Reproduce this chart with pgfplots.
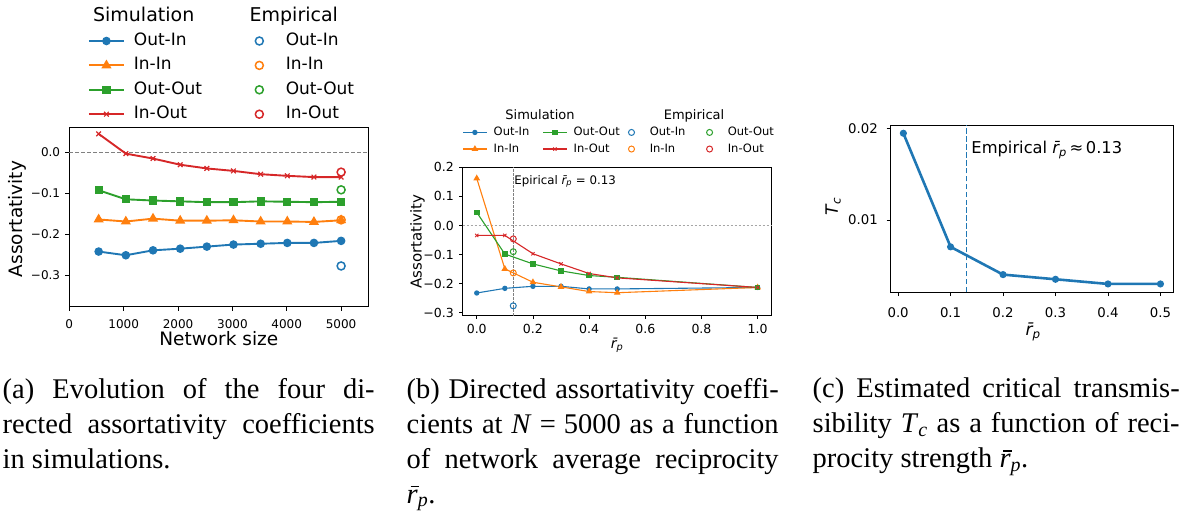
\documentclass[border=0pt]{standalone}
\usepackage{fontspec}
\setmainfont{Liberation Serif}
\newfontfamily\dv{DejaVu Sans}
\usepackage{pgfplots}
\pgfplotsset{compat=1.18}

\definecolor{c0}{HTML}{1F77B4}
\definecolor{c1}{HTML}{FF7F0E}
\definecolor{c2}{HTML}{2CA02C}
\definecolor{c3}{HTML}{D62728}

\newcommand\fs[1]{\fontsize{#1}{#1}\selectfont}
\newcommand\rp{{\itshape r̄\textsubscript{p}}}
% caption r-bar in Times-like italic
\newcommand\barr{\makebox[0pt][l]{\kern0.14em\raisebox{0.56em}{\rule{0.3em}{0.045em}}}\textit{r}}

\pgfplotsset{
  mpl/.style={
    scale only axis, clip=false, scaled ticks=false,
    axis line style={black, line width=0.9pt},
    tick align=outside, tick pos=left,
    every tick/.append style={black, line width=0.9pt},
    every tick label/.append style={inner sep=0pt},
    legend cell align=left,
  },
  simlegA/.style={legend image code/.code={\path[draw=none,fill=none] (0pt,-4pt) rectangle (35pt,4pt);
    \draw[##1] (0pt,0pt) -- (35pt,0pt);
    \draw[##1] plot coordinates {(17.5pt,0pt)};}},
  emplegA/.style={legend image code/.code={\path[draw=none,fill=none] (0pt,-4pt) rectangle (35pt,4pt);
    \draw[##1] plot coordinates {(17.5pt,0pt)};}},
  simlegB/.style={legend image code/.code={\path[draw=none,fill=none] (0pt,-3pt) rectangle (23.3pt,3pt);
    \draw[##1] (0pt,0pt) -- (23.3pt,0pt);
    \draw[##1] plot coordinates {(11.65pt,0pt)};}},
  emplegB/.style={legend image code/.code={\path[draw=none,fill=none] (0pt,-3pt) rectangle (23.3pt,3pt);
    \draw[##1] plot coordinates {(11.65pt,0pt)};}},
}

\begin{document}
\begin{tikzpicture}
\useasboundingbox (0,0) rectangle (1180pt,-518pt);

% ---------------- (a) ----------------
\begin{axis}[mpl,
  at={(69.3pt,-306.7pt)}, anchor=south west,
  width=299pt, height=179pt,
  xmin=0, xmax=5500, ymin=-0.376, ymax=0.059,
  xtick={0,1000,2000,3000,4000,5000},
  xticklabels={0,1000,2000,3000,4000,5000},
  ytick={-0.3,-0.2,-0.1,0},
  yticklabels={−0.3,−0.2,−0.1,0.0},
  major tick length=4pt,
  ticklabel style={font=\dv\fs{12}},
  xticklabel style={anchor=north, yshift=-9pt},
  yticklabel style={anchor=east, xshift=-5pt},
  xlabel={Network size}, ylabel={Assortativity},
  label style={font=\dv\fs{18.5}},
  xlabel style={at={(axis description cs:0.5,-0.1765)}, anchor=center},
  ylabel style={at={(axis description cs:-0.175,0.49)}, anchor=center},
  legend columns=4, transpose legend,
  legend style={draw=none, fill=none, inner sep=0pt, outer sep=0pt,
    at={(axis description cs:0.0625,1.529)}, anchor=north west,
    font=\dv\fs{17}, row sep=8.4pt,
    nodes={inner sep=0pt, text height=12.5pt, text depth=3.5pt},
    /tikz/every odd column/.append style={column sep=9pt},
    /tikz/every even column/.append style={column sep=39.7pt}},
]
\draw[gray, line width=0.8pt, dash pattern=on 4pt off 2pt]
  (axis cs:0,0) -- (axis cs:5500,0);
\addplot[simlegA, c0, line width=1.9pt, mark=*, mark size=3.3pt, mark options={solid}] coordinates {
  (540,-0.242) (1040,-0.251) (1540,-0.239) (2040,-0.235) (2530,-0.230)
  (3020,-0.225) (3520,-0.223) (4010,-0.221) (4500,-0.221) (5000,-0.216)};
\addlegendentry{Out-In}
\addplot[simlegA, c1, line width=1.9pt, mark=triangle*, mark size=4pt, mark options={solid}] coordinates {
  (540,-0.164) (1040,-0.169) (1540,-0.162) (2040,-0.167) (2530,-0.167)
  (3020,-0.166) (3520,-0.169) (4010,-0.169) (4500,-0.170) (5000,-0.166)};
\addlegendentry{In-In}
\addplot[simlegA, c2, line width=1.9pt, mark=square*, mark size=3.2pt, mark options={solid}] coordinates {
  (540,-0.093) (1040,-0.115) (1540,-0.118) (2040,-0.120) (2530,-0.122)
  (3020,-0.122) (3520,-0.120) (4010,-0.121) (4500,-0.122) (5000,-0.121)};
\addlegendentry{Out-Out}
\addplot[simlegA, c3, line width=1.9pt, mark=x, mark size=3.3pt, mark options={solid, line width=1.2pt}] coordinates {
  (540,0.044) (1040,-0.004) (1540,-0.016) (2040,-0.031) (2530,-0.040)
  (3020,-0.046) (3520,-0.054) (4010,-0.058) (4500,-0.061) (5000,-0.061)};
\addlegendentry{In-Out}
\addplot[only marks, emplegA, c0, mark=o, mark size=4pt, mark options={line width=1.5pt}]
  coordinates {(5000,-0.277)};
\addlegendentry{Out-In}
\addplot[only marks, emplegA, c1, mark=o, mark size=4pt, mark options={line width=1.5pt}]
  coordinates {(5000,-0.165)};
\addlegendentry{In-In}
\addplot[only marks, emplegA, c2, mark=o, mark size=4pt, mark options={line width=1.5pt}]
  coordinates {(5000,-0.092)};
\addlegendentry{Out-Out}
\addplot[only marks, emplegA, c3, mark=o, mark size=4pt, mark options={line width=1.5pt}]
  coordinates {(5000,-0.049)};
\addlegendentry{In-Out}
\end{axis}

% ---------------- (b) ----------------
\begin{axis}[mpl,
  at={(462.7pt,-315.7pt)}, anchor=south west,
  width=309pt, height=148.4pt,
  xmin=-0.05, xmax=1.05, ymin=-0.31, ymax=0.2,
  xtick={0,0.2,0.4,0.6,0.8,1},
  xticklabels={0.0,0.2,0.4,0.6,0.8,1.0},
  ytick={-0.3,-0.2,-0.1,0,0.1,0.2},
  yticklabels={−0.3,−0.2,−0.1,0.0,0.1,0.2},
  major tick length=3.3pt,
  axis line style={line width=0.8pt},
  every tick/.append style={line width=0.8pt},
  ticklabel style={font=\dv\fs{12.5}},
  xticklabel style={anchor=north, yshift=-5pt},
  yticklabel style={anchor=east, xshift=-5.5pt},
  xlabel={\rp}, ylabel={Assortativity},
  xlabel style={font=\dv\fs{14}, at={(axis description cs:0.5,-0.197)}, anchor=center},
  ylabel style={font=\dv\fs{15}, at={(axis description cs:-0.146,0.5)}, anchor=center},
  legend columns=2, transpose legend,
  legend style={draw=none, fill=none, inner sep=0pt, outer sep=0pt,
    at={(axis description cs:0,1.272)}, anchor=north west,
    font=\dv\fs{11.5}, row sep=5.6pt,
    nodes={inner sep=0pt, text height=8.5pt, text depth=2.5pt},
    /tikz/every odd column/.append style={column sep=6.6pt},
    /tikz/column 2/.style={column sep=13.3pt},
    /tikz/column 4/.style={column sep=0pt},
    /tikz/column 6/.style={column sep=12.5pt}},
]
\draw[gray!70, line width=0.6pt, dash pattern=on 2.5pt off 1.5pt]
  (axis cs:-0.05,0) -- (axis cs:1.05,0);
\draw[gray, line width=0.6pt, dash pattern=on 2.5pt off 1.5pt]
  (axis cs:0.13,-0.31) -- (axis cs:0.13,0.2);
\node[anchor=base west, inner sep=0pt, font=\dv\fs{11.8}] at (axis cs:0.1336,0.1426)
  {Epirical \rp\ = 0.13};
\addplot[simlegB, c0, line width=1.1pt, mark=*, mark size=2.1pt, mark options={solid}] coordinates {
  (0,-0.232) (0.1,-0.216) (0.2,-0.209) (0.3,-0.209) (0.4,-0.218) (0.5,-0.218) (1,-0.213)};
\addlegendentry{Out-In}
\addplot[simlegB, c1, line width=1.1pt, mark=triangle*, mark size=2.8pt, mark options={solid}] coordinates {
  (0,0.162) (0.1,-0.149) (0.2,-0.195) (0.3,-0.211) (0.4,-0.227) (0.5,-0.231) (1,-0.213)};
\addlegendentry{In-In}
\addplot[simlegB, c2, line width=1.1pt, mark=square*, mark size=2.2pt, mark options={solid}] coordinates {
  (0,0.045) (0.1,-0.098) (0.2,-0.132) (0.3,-0.156) (0.4,-0.172) (0.5,-0.178) (1,-0.213)};
\addlegendentry{Out-Out}
\addplot[simlegB, c3, line width=1.1pt, mark=x, mark size=2.3pt, mark options={solid, line width=0.9pt}] coordinates {
  (0,-0.034) (0.1,-0.034) (0.2,-0.097) (0.3,-0.132) (0.4,-0.165) (0.5,-0.180) (1,-0.213)};
\addlegendentry{In-Out}
\addplot[only marks, emplegB, c0, mark=o, mark size=3pt, mark options={line width=1pt}]
  coordinates {(0.13,-0.276)};
\addlegendentry{Out-In}
\addplot[only marks, emplegB, c1, mark=o, mark size=3pt, mark options={line width=1pt}]
  coordinates {(0.13,-0.163)};
\addlegendentry{In-In}
\addplot[only marks, emplegB, c2, mark=o, mark size=3pt, mark options={line width=1pt}]
  coordinates {(0.13,-0.090)};
\addlegendentry{Out-Out}
\addplot[only marks, emplegB, c3, mark=o, mark size=3pt, mark options={line width=1pt}]
  coordinates {(0.13,-0.046)};
\addlegendentry{In-Out}
\end{axis}

% ---------------- (c) ----------------
\begin{axis}[mpl,
  at={(890.5pt,-292pt)}, anchor=south west,
  width=282.8pt, height=166.7pt,
  xmin=-0.0145, xmax=0.5245, ymin=0.00215, ymax=0.02036,
  xtick={0,0.1,0.2,0.3,0.4,0.5},
  xticklabels={0.0,0.1,0.2,0.3,0.4,0.5},
  ytick={0.01,0.02}, yticklabels={0.01,0.02},
  major tick length=4pt,
  ticklabel style={font=\dv\fs{13.3}},
  xticklabel style={anchor=north, yshift=-11pt},
  yticklabel style={anchor=east, xshift=-8.5pt},
  xlabel={\rp}, ylabel={{\itshape T\textsubscript{c}}},
  label style={font=\dv\fs{17}},
  xlabel style={at={(axis description cs:0.504,-0.24)}, anchor=center},
  ylabel style={at={(axis description cs:-0.203,0.512)}, anchor=center},
]
\draw[c0, line width=1.5pt, dash pattern=on 5.5pt off 2.4pt]
  (axis cs:0.13,0.00215) -- (axis cs:0.13,0.02036);
\node[anchor=base west, inner sep=0pt, font=\dv\fs{16.3}] at (axis cs:0.1394,0.01724)
  {Empirical \rp\,≈\,0.13};
\addplot[c0, line width=2.6pt, mark=*, mark size=2.2pt, mark options={solid}] coordinates {
  (0.01,0.01949) (0.1,0.00708) (0.2,0.00405) (0.3,0.00354) (0.4,0.00303) (0.5,0.00303)};
\end{axis}

% legend titles
\node[anchor=base, inner sep=0pt, font=\dv\fs{19}] at (143.7pt,-21.7pt) {Simulation};
\node[anchor=base, inner sep=0pt, font=\dv\fs{19}] at (293.8pt,-21.7pt) {Empirical};
\node[anchor=base, inner sep=0pt, font=\dv\fs{13}] at (540pt,-119.5pt) {Simulation};
\node[anchor=base, inner sep=0pt, font=\dv\fs{13}] at (694pt,-119.5pt) {Empirical};

% captions
\node[anchor=base west, inner sep=0pt] at (2.5pt,-398pt) {\parbox[t]{372pt}{\fontsize{28.5}{35}\selectfont
  \makebox[\linewidth][s]{(a) Evolution of the four di-}\\
  \makebox[\linewidth][s]{rected assortativity coefficients}\\
  in simulations.}};
\node[anchor=base west, inner sep=0pt] at (406.5pt,-398pt) {\parbox[t]{372pt}{\fontsize{28.5}{35}\selectfont
  \makebox[\linewidth][s]{(b) Directed assortativity coeffi-}\\
  \makebox[\linewidth][s]{cients at \mbox{\textit{N}\hspace{0.28em}=\hspace{0.28em}5000} as a function}\\
  \makebox[\linewidth][s]{of network average reciprocity}\\
  \barr\textsubscript{\textit{p}}.}};
\node[anchor=base west, inner sep=0pt] at (812.5pt,-397.5pt) {\parbox[t]{367pt}{\fontsize{28.5}{35}\selectfont
  \makebox[\linewidth][s]{(c) Estimated critical transmis-}\\
  \makebox[\linewidth][s]{sibility \textit{T}\textsubscript{\textit{c}} as a function of reci-}\\
  procity strength \barr\textsubscript{\textit{p}}.}};
\end{tikzpicture}
\end{document}
